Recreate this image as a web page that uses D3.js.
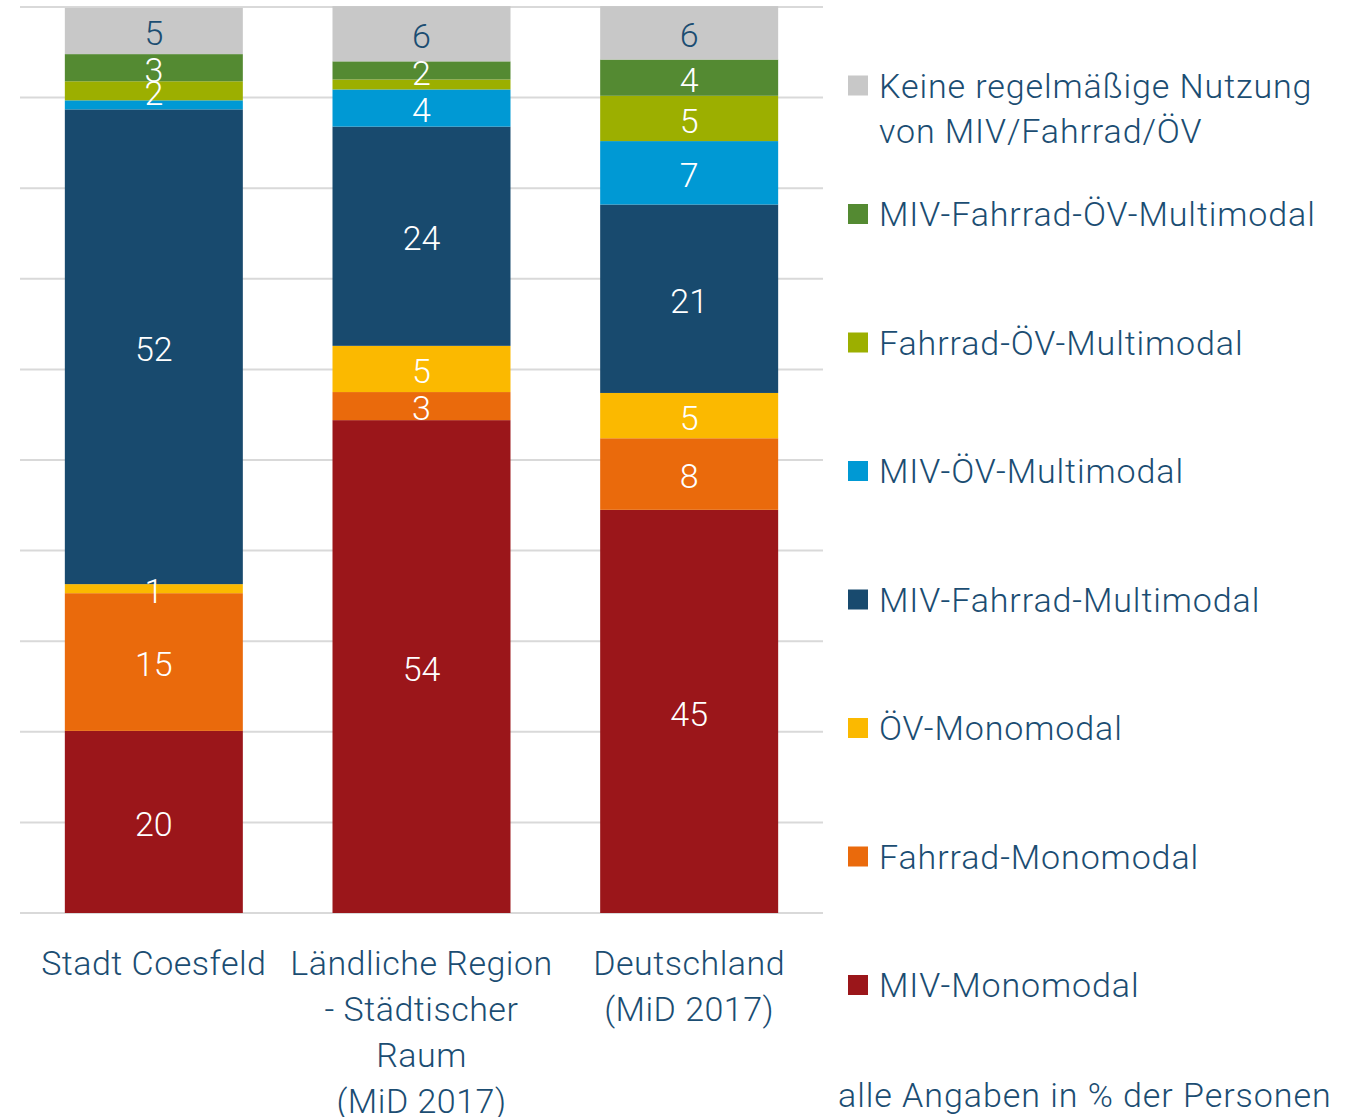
<!DOCTYPE html>
<html>
<head>
<meta charset="utf-8">
<script src="https://cdn.jsdelivr.net/npm/d3@7"></script>
<style>
  html, body { margin: 0; padding: 0; background: #fff; }
  svg text { font-family: Roboto, "DejaVu Sans", sans-serif; font-weight: 300; }
</style>
</head>
<body>
<svg id="chart" width="1350" height="1117"></svg>
<script>
// ---- data ----
const categories = ["Stadt Coesfeld", "Ländliche Region - Städtischer Raum (MiD 2017)", "Deutschland (MiD 2017)"];
const categoryLines = [
  ["Stadt Coesfeld"],
  ["Ländliche Region", "- Städtischer", "Raum", "(MiD 2017)"],
  ["Deutschland", "(MiD 2017)"]
];
// stacking order: bottom to top
const seriesNames = [
  "MIV-Monomodal",
  "Fahrrad-Monomodal",
  "ÖV-Monomodal",
  "MIV-Fahrrad-Multimodal",
  "MIV-ÖV-Multimodal",
  "Fahrrad-ÖV-Multimodal",
  "MIV-Fahrrad-ÖV-Multimodal",
  "Keine regelmäßige Nutzung von MIV/Fahrrad/ÖV"
];
const mivMono        = [20.1, 54.4, 44.5];
const fahrradMono    = [15.2,  3.1,  7.9];
const oevMono        = [ 1.0,  5.1,  5.0];
const mivFahrrad     = [52.4, 24.2, 20.8];
const mivOev         = [ 1.0,  4.1,  7.0];
const fahrradOev     = [ 2.1,  1.1,  5.0];
const mivFahrradOev  = [ 3.0,  2.0,  4.0];
const keine          = [ 5.1,  6.1,  5.9];
const seriesValues = [mivMono, fahrradMono, oevMono, mivFahrrad, mivOev, fahrradOev, mivFahrradOev, keine];
const seriesColors = ["#9b161a", "#ea6a0c", "#fbb900", "#184a6e", "#0099d4", "#9caf00", "#548a32", "#c8c8c8"];
// segments shown without a value label: [series index, category index]
const unlabeled = [[4, 0], [5, 1]];
const legendLabels = [
  ["Keine regelmäßige Nutzung", "von MIV/Fahrrad/ÖV"],
  ["MIV-Fahrrad-ÖV-Multimodal"],
  ["Fahrrad-ÖV-Multimodal"],
  ["MIV-ÖV-Multimodal"],
  ["MIV-Fahrrad-Multimodal"],
  ["ÖV-Monomodal"],
  ["Fahrrad-Monomodal"],
  ["MIV-Monomodal"]
];
const legendColors = ["#c8c8c8", "#548a32", "#9caf00", "#0099d4", "#184a6e", "#fbb900", "#ea6a0c", "#9b161a"];
const yTicks = [0, 10, 20, 30, 40, 50, 60, 70, 80, 90, 100];
const footnote = "alle Angaben in % der Personen";

// ---- layout ----
const textColor = "#1b4d72";
const svg = d3.select("#chart");
const plot = { left: 20, right: 823, top: 7, bottom: 913 };

const x = d3.scaleBand().domain(categories).range([plot.left, plot.right])
  .paddingInner(0.335).paddingOuter(0.1675);
const y = d3.scaleLinear().domain([0, 100]).range([plot.bottom, plot.top]);

// table for d3.stack
const table = categories.map((c, i) => {
  const row = { category: c };
  seriesNames.forEach((s, k) => row[s] = seriesValues[k][i]);
  return row;
});
const stacked = d3.stack().keys(seriesNames)(table);

// gridlines
svg.append("g").selectAll("line").data(yTicks).join("line")
  .attr("x1", plot.left).attr("x2", plot.right)
  .attr("y1", d => y(d)).attr("y2", d => y(d))
  .attr("stroke", "#d9d9d9").attr("stroke-width", 2);

// bars
const layers = svg.append("g").selectAll("g").data(stacked).join("g")
  .attr("fill", (d, k) => seriesColors[k]);
layers.selectAll("rect").data(d => d).join("rect")
  .attr("x", d => x(d.data.category))
  .attr("width", x.bandwidth())
  .attr("y", d => y(d[1]))
  .attr("height", d => y(d[0]) - y(d[1]));

// value labels
const isUnlabeled = (k, i) => unlabeled.some(u => u[0] === k && u[1] === i);
stacked.forEach((layer, k) => {
  layer.forEach((d, i) => {
    if (isUnlabeled(k, i)) return;
    svg.append("text")
      .attr("x", x(d.data.category) + x.bandwidth() / 2)
      .attr("y", (y(d[0]) + y(d[1])) / 2)
      .attr("dy", "0.42em")
      .attr("text-anchor", "middle")
      .attr("font-size", 34)
      .attr("fill", k === seriesNames.length - 1 ? textColor : "#ffffff")
      .text(d3.format(".0f")(d.data[layer.key]));
  });
});

// category labels
categories.forEach((c, i) => {
  const t = svg.append("text")
    .attr("text-anchor", "middle")
    .attr("font-size", 34)
    .attr("letter-spacing", 0.5)
    .attr("fill", textColor);
  categoryLines[i].forEach((line, j) => {
    t.append("tspan")
      .attr("x", x(c) + x.bandwidth() / 2)
      .attr("y", 963 + j * 46)
      .attr("dy", "0.36em")
      .text(line);
  });
});

// legend
const legendY = d3.scaleLinear().domain([0, 7]).range([85.5, 985]);
legendLabels.forEach((lines, i) => {
  const cy = legendY(i);
  svg.append("rect")
    .attr("x", 848).attr("y", cy - 10).attr("width", 20).attr("height", 20)
    .attr("fill", legendColors[i]);
  const t = svg.append("text").attr("font-size", 34).attr("letter-spacing", 0.9).attr("fill", textColor);
  lines.forEach((line, j) => {
    t.append("tspan").attr("x", 879).attr("y", cy + j * 45).attr("dy", "0.36em").text(line);
  });
});

svg.append("text")
  .attr("x", 838).attr("y", 1095).attr("dy", "0.36em")
  .attr("font-size", 34).attr("letter-spacing", 0.95).attr("fill", textColor)
  .text(footnote);
</script>
</body>
</html>
